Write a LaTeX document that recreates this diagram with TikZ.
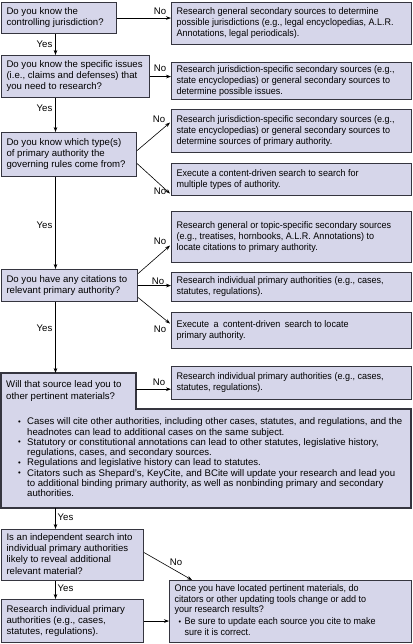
\documentclass[tikz,border=0pt]{standalone}
\usepackage{fontspec}
\setmainfont{Liberation Sans}
\newfontfamily\rfont[FakeStretch=0.94]{Liberation Sans}
\usepackage{graphicx}
\usetikzlibrary{arrows.meta}
\definecolor{boxfill}{HTML}{D6D6EA}
\definecolor{boxline}{HTML}{35353F}
\newcommand\mybul{\makebox[9pt][l]{\raisebox{0.6pt}{\scalebox{0.8}{•}}}}
\newcommand\bt[2]{\makebox[#1][l]{\begin{tabular}{@{}l@{}}#2\end{tabular}}}
\begin{document}
\begin{tikzpicture}[x=1pt,y=-1pt,
  txt/.style={font=\fontsize{9.6}{11.2}\selectfont},
  box/.style={txt, draw=boxline, line width=1.1pt, fill=boxfill, anchor=north west,
    inner xsep=5pt, inner ysep=1pt},
  rbox/.style={box, font=\rfont\fontsize{9.6}{11.2}\selectfont, minimum width=240pt},
  arr/.style={draw=black, line width=0.6pt, -{Stealth[length=5pt,width=3.6pt]}},
  lab/.style={txt, inner sep=0pt},
]
\useasboundingbox[fill=white] (0,0) rectangle (412,644);
\coordinate (trunk) at (55.5,0);

% question boxes
\node[box, minimum width=115pt, minimum height=31pt] (q1) at (1,2)
  {\bt{105pt}{Do you know the\\controlling jurisdiction?}};
\node[box, minimum width=148pt, minimum height=42pt] (q2) at (1,55)
  {\bt{138pt}{Do you know the specific issues\\(i.e., claims and defenses) that\\you need to research?}};
\node[box, minimum width=135pt, minimum height=44pt] (q3) at (1,132)
  {\bt{125pt}{Do you know which type(s)\\of primary authority the\\governing rules come from?}};
\node[box, minimum width=136pt, minimum height=32pt] (q4) at (1,269)
  {\bt{126pt}{Do you have any citations to\\relevant primary authority?}};

% result boxes
\node[rbox, minimum height=42pt] (r1) at (171,2)
  {\bt{230pt}{Research general secondary sources to determine\\possible jurisdictions (e.g., legal encyclopedias, A.L.R.\\Annotations, legal periodicals).}};
\node[rbox, minimum height=37pt] (r2) at (171,62)
  {\bt{230pt}{Research jurisdiction-specific secondary sources (e.g.,\\state encyclopedias) or general secondary sources to\\determine possible issues.}};
\node[rbox, minimum height=43pt] (r3) at (171,109)
  {\bt{230pt}{Research jurisdiction-specific secondary sources (e.g.,\\state encyclopedias) or general secondary sources to\\determine sources of primary authority.}};
\node[rbox, minimum height=32pt] (r4) at (171,163)
  {\bt{230pt}{Execute a content-driven search to search for\\multiple types of authority.}};
\node[rbox, minimum height=51pt] (r5) at (171,211)
  {\bt{230pt}{Research general or topic-specific secondary sources\\(e.g., treatises, hornbooks, A.L.R. Annotations) to\\locate citations to primary authority.}};
\node[rbox, minimum height=29pt] (r6) at (171,272)
  {\bt{230pt}{Research individual primary authorities (e.g., cases,\\statutes, regulations).}};
\node[rbox, minimum height=36pt] (r7) at (171,312)
  {\bt{230pt}{Execute\hspace{2pt} a\hspace{2pt} content-driven\hspace{2pt} search to locate\\primary authority.}};
\node[rbox, minimum height=33pt] (r8) at (171,366)
  {\bt{230pt}{Research individual primary authorities (e.g., cases,\\statutes, regulations).}};

% big question box with bullet list
\draw[draw=boxline, line width=1.1pt, fill=boxfill]
  (1,373) -- (136,373) -- (136,409) -- (411,409) -- (411,508) -- (1,508) -- cycle;
\node[txt, anchor=north west, inner xsep=5pt, inner ysep=0pt,
  minimum width=135pt, minimum height=36pt] (q5) at (1,373)
  {\bt{125pt}{Will that source lead you to\\other pertinent materials?}};
\node[anchor=north west, inner sep=0pt, minimum height=99pt,
  font=\fontsize{9.6}{10.3}\selectfont] (bl) at (18,409)
  {\bt{392pt}{\mybul Cases will cite other authorities, including other cases, statutes, and regulations, and the\\
   \hspace*{9pt}headnotes can lead to additional cases on the same subject.\\
   \mybul Statutory or constitutional annotations can lead to other statutes, legislative history,\\
   \hspace*{9pt}regulations, cases, and secondary sources.\\
   \mybul Regulations and legislative history can lead to statutes.\\
   \mybul Citators such as Shepard’s, KeyCite, and BCite will update your research and lead you\\
   \hspace*{9pt}to additional binding primary authority, as well as nonbinding primary and secondary\\
   \hspace*{9pt}authorities.}};

% bottom boxes
\node[box, minimum width=142pt, minimum height=51pt] (q6) at (1,529)
  {\bt{132pt}{Is an independent search into\\individual primary authorities\\likely to reveal additional\\relevant material?}};
\node[box, minimum width=142pt, minimum height=43pt] (q7) at (1,599)
  {\bt{132pt}{Research individual primary\\authorities (e.g., cases,\\statutes, regulations).}};
\node[rbox, minimum width=242pt, minimum height=62pt,
  font=\rfont\fontsize{9.6}{10.5}\selectfont] (fin) at (169,580)
  {\bt{232pt}{Once you have located pertinent materials, do\\citators or other updating tools change or add to\\your research results?\\[1.5pt]
   \hspace*{4pt}\makebox[6pt][l]{\raisebox{0.6pt}{\scalebox{0.8}{•}}}Be sure to update each source you cite to make\\
   \hspace*{10pt}sure it is correct.}};

% vertical trunk
\draw[arr] (q1.south -| trunk) -- (q2.north -| trunk);
\draw[arr] (q2.south -| trunk) -- (q3.north -| trunk);
\draw[arr] (q3.south -| trunk) -- (q4.north -| trunk);
\draw[arr] (q4.south -| trunk) -- (q5.north -| trunk);
\draw[arr] (bl.south -| trunk) -- (q6.north -| trunk);
\draw[arr] (q6.south -| trunk) -- (q7.north -| trunk);

% No branches
\draw[arr] (q1.east) -- (q1.east -| r1.west);
\draw[arr] (q2.east) -- (q2.east -| r2.west);
\draw[arr] ([yshift=4pt]q3.east) -- ([xshift=-1pt,yshift=8.5pt]r3.west);
\draw[arr] ([yshift=-9pt]q3.east) -- ([xshift=-1pt,yshift=-14pt]r4.west);
\draw[arr] ([yshift=12pt]q4.east) -- ([xshift=-1pt,yshift=-8.5pt]r5.west);
\draw[arr] (q4.east) -- (q4.east -| r6.west);
\draw[arr] ([yshift=-12pt]q4.east) -- ([xshift=-1pt,yshift=7pt]r7.west);
\draw[arr] ([yshift=2pt]q5.east) -- ([yshift=2pt]q5.east -| r8.west);
\draw[arr] ([yshift=2.5pt]q6.east) -- ([xshift=23pt]fin.north west);
\draw[arr] (q7.east) -- (q7.east -| fin.west);

% labels
\node[lab] (y1) at (44.5,44) {Yes};
\node[lab] (y2) at (44.5,108) {Yes};
\node[lab] (y3) at (44.5,225) {Yes};
\node[lab] (y4) at (44.5,328) {Yes};
\node[lab, anchor=west] (y5) at (57.5,517) {Yes};
\node[lab, anchor=west] (y6) at (57.5,588) {Yes};
\node[lab] (n1) at (160,11) {No};
\node[lab] (n2) at (160,68) {No};
\node[lab] (n3) at (159,119) {No};
\node[lab] (n4) at (160,191) {No};
\node[lab] (n5) at (160,241) {No};
\node[lab] (n6) at (158,281) {No};
\node[lab] (n7) at (160,329) {No};
\node[lab] (n8) at (159,382) {No};
\node[lab] (n9) at (176,562) {No};
\end{tikzpicture}
\end{document}
